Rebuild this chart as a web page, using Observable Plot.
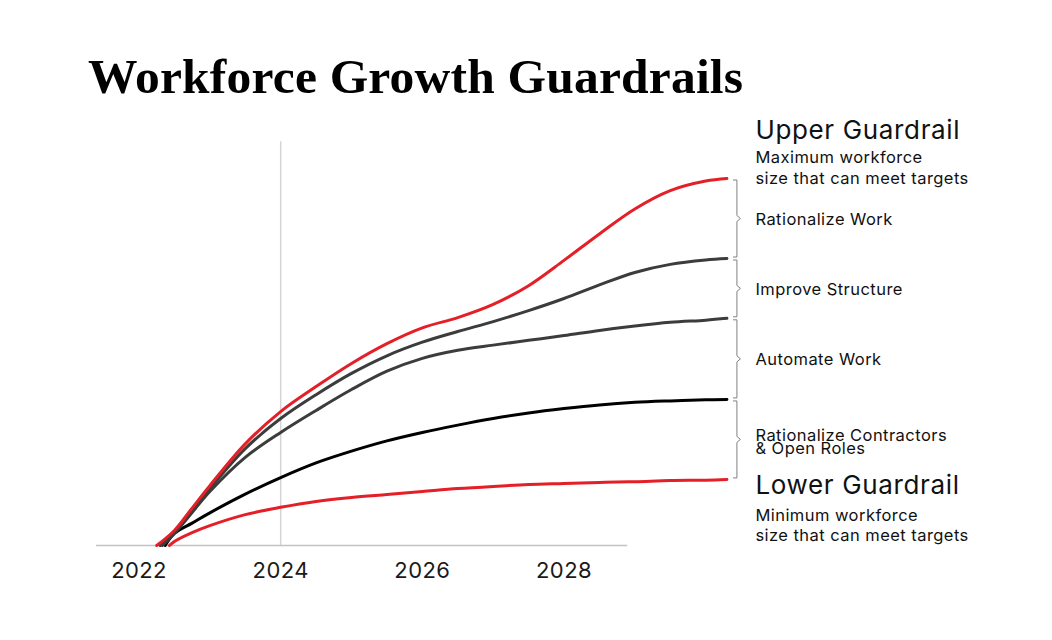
<!DOCTYPE html>
<html>
<head>
<meta charset="utf-8">
<script src="https://cdn.jsdelivr.net/npm/d3@7"></script>
<script src="https://cdn.jsdelivr.net/npm/@observablehq/plot@0.6"></script>
<style>
  body { margin: 0; background: #fff; }
  #wrap { width: 1052px; height: 640px; position: relative; overflow: hidden; background: #fff; }
  #title { position: absolute; left: 88px; top: 52px; margin: 0; font-family: "Liberation Serif", serif; font-weight: 700; font-size: 49.5px; line-height: 49.5px; letter-spacing: 0.2px; color: #000; white-space: nowrap; }
  #chart { position: absolute; left: 0; top: 110px; }
  #chart g[font-size="26"] text { letter-spacing: 0.65px; }
  #chart g[font-size="16.5"] text { letter-spacing: 0.45px; }
  #chart g[font-size="22"] text { letter-spacing: 0.4px; }
</style>
</head>
<body>
<div id="wrap">
  <h1 id="title">Workforce Growth Guardrails</h1>
  <div id="chart"></div>
</div>
<script>
// ---- data (index: upper guardrail in 2030 = 100) ----
const years = [2022.5, 2022.75, 2023, 2023.5, 2024, 2024.5, 2025, 2025.5, 2026, 2026.5, 2027, 2027.5, 2028, 2028.5, 2029, 2029.5, 2030, 2030.3];
const seriesNames = ["Upper Guardrail", "Improve Structure", "Automate Work", "Rationalize Contractors", "Lower Guardrail"];
const startYears = [2022.25, 2022.3, 2022.33, 2022.37, 2022.43];
const upperGuardrail = [4.1, 10.2, 16.3, 27.7, 36.5, 43.3, 49.6, 55.0, 59.3, 62.1, 65.7, 70.8, 77.7, 84.9, 91.7, 96.7, 99.3, 100];
const improveStructure = [3.5, 9.5, 15.5, 26.4, 34.6, 41.1, 46.9, 51.7, 55.4, 58.3, 61.0, 64.0, 67.3, 71.0, 74.4, 76.6, 77.8, 78.2];
const automateWork = [3.3, 9.0, 14.7, 24.0, 30.8, 36.8, 42.5, 47.5, 51.0, 53.2, 54.6, 55.9, 57.2, 58.6, 59.8, 60.8, 61.4, 61.9];
const rationalizeContractors = [3.3, 6.1, 8.9, 14.0, 18.5, 22.5, 25.7, 28.5, 30.8, 32.8, 34.6, 36.1, 37.3, 38.3, 39.0, 39.4, 39.7, 39.8];
const lowerGuardrail = [1.1, 3.5, 5.4, 8.4, 10.4, 12.0, 13.1, 13.9, 14.7, 15.5, 16.1, 16.6, 16.9, 17.2, 17.4, 17.7, 17.8, 18.0];
const seriesColors = ["#e41f27", "#3c3c3c", "#3c3c3c", "#000000", "#e41f27"];
const tickYears = [2022, 2024, 2026, 2028];
const tickLabels = ["2022", "2024", "2026", "2028"];
const bracketLabels = ["Rationalize Work", "Improve Structure", "Automate Work", "Rationalize Contractors\n& Open Roles"];
const gridYear = 2024;
const axisExtent = [2021.4, 2028.9];
const gridTop = 110;

// ---- build ----
const allValues = [upperGuardrail, improveStructure, automateWork, rationalizeContractors, lowerGuardrail];
const series = allValues.map((vals, i) => [
  {year: startYears[i], value: 0, name: seriesNames[i]},
  ...years.map((y, j) => ({year: y, value: vals[j], name: seriesNames[i]}))
]);

const xDomain = [2022, 2028], xRange = [138.5, 563.5];
const yDomain = [0, 100], yRange = [435, 68];
const kx = (xDomain[1] - xDomain[0]) / (xRange[1] - xRange[0]); // years per px
const ky = (yDomain[1] - yDomain[0]) / (yRange[0] - yRange[1]); // units per px

const lastYear = years[years.length - 1];
const ends = allValues.map(v => v[v.length - 1]);

const bracketPts = [];
for (let i = 0; i < ends.length - 1; i++) {
  const a = ends[i], b = ends[i + 1], mid = (a + b) / 2;
  const xs = lastYear + 10 * kx, xh = lastYear + 6.5 * kx, xn = lastYear + 13.5 * kx;
  [[xh, a - 1.5 * ky], [xs, a - 1.5 * ky], [xs, mid + 3 * ky], [xn, mid], [xs, mid - 3 * ky], [xs, b + 1.5 * ky], [xh, b + 1.5 * ky]]
    .forEach(([x, y]) => bracketPts.push({id: i, x, y}));
}
const bracketMids = bracketLabels.map((t, i) => ({y: (ends[i] + ends[i + 1]) / 2, text: t}));
const ticks = tickYears.map((t, i) => ({year: t, label: tickLabels[i]}));

const lineMarks = [];
for (let i = series.length - 1; i >= 0; i--) {
  lineMarks.push(Plot.line(series[i], {x: "year", y: "value", stroke: seriesColors[i], strokeWidth: 3, curve: "catmull-rom"}));
}

const labelDx = 28.5;
const chart = Plot.plot({
  width: 1052,
  height: 530,
  marginTop: 0, marginBottom: 95, marginLeft: 0, marginRight: 0,
  x: {domain: xDomain, range: xRange, axis: null},
  y: {domain: yDomain, range: yRange, axis: null},
  style: {fontFamily: "Inter, 'Noto Sans', sans-serif", background: "white", overflow: "visible"},
  marks: [
    Plot.ruleX([{x: gridYear, y1: 0, y2: gridTop}], {x: "x", y1: "y1", y2: "y2", stroke: "#d4d4d4", strokeWidth: 1.5}),
    Plot.ruleY([{y: 0, x1: axisExtent[0], x2: axisExtent[1]}], {y: "y", x1: "x1", x2: "x2", stroke: "#c4c4c4", strokeWidth: 1.5}),
    Plot.text(ticks, {x: "year", y: () => 0, text: "label", dy: 25.4, fontSize: 22, textAnchor: "middle", lineAnchor: "middle", fill: "#1a1a1a"}),
    ...lineMarks,
    Plot.line(bracketPts, {x: "x", y: "y", z: "id", stroke: "#808080", strokeWidth: 1, curve: "linear"}),
    Plot.text(bracketMids.slice(0, 3), {x: () => lastYear, y: "y", text: "text", dx: labelDx, dy: 1, textAnchor: "start", lineAnchor: "middle", fontSize: 16.5, fill: "#111"}),
    Plot.text(bracketMids.slice(3), {x: () => lastYear, y: "y", text: "text", dx: labelDx, dy: 4, textAnchor: "start", lineAnchor: "middle", lineHeight: 0.8, fontSize: 16.5, fill: "#111"}),
    Plot.text([{y: ends[0], t: "Upper Guardrail"}], {x: () => lastYear, y: "y", text: "t", dx: labelDx, dy: -40, textAnchor: "start", lineAnchor: "bottom", fontSize: 26, fill: "#111"}),
    Plot.text([{y: ends[0], t: "Maximum workforce\nsize that can meet targets"}], {x: () => lastYear, y: "y", text: "t", dx: labelDx, dy: 5.6, textAnchor: "start", lineAnchor: "bottom", lineHeight: 1.3, fontSize: 16.5, fill: "#111"}),
    Plot.text([{y: ends[4], t: "Lower Guardrail"}], {x: () => lastYear, y: "y", text: "t", dx: labelDx, dy: 14.6, textAnchor: "start", lineAnchor: "bottom", fontSize: 26, fill: "#111"}),
    Plot.text([{y: ends[4], t: "Minimum workforce\nsize that can meet targets"}], {x: () => lastYear, y: "y", text: "t", dx: labelDx, dy: 62, textAnchor: "start", lineAnchor: "bottom", lineHeight: 1.26, fontSize: 16.5, fill: "#111"})
  ]
});
document.getElementById("chart").appendChild(chart);
</script>
</body>
</html>
